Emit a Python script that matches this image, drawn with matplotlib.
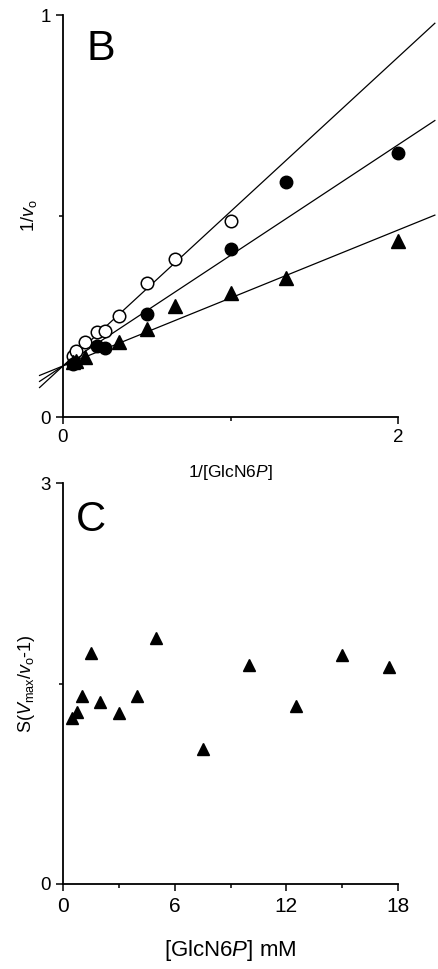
import matplotlib
matplotlib.use("Agg")
import matplotlib.pyplot as plt
import numpy as np
from matplotlib.ticker import FixedLocator, NullFormatter

plt.rcParams['font.family'] = ['Liberation Sans', 'DejaVu Sans']
plt.rcParams['mathtext.fontset'] = 'custom'
plt.rcParams['mathtext.rm'] = 'Liberation Sans'
plt.rcParams['mathtext.it'] = 'Liberation Sans:italic'

# Panel B: double-reciprocal plot, 1/[GlcN6P] vs 1/v0
open_x = [0.057, 0.08, 0.133, 0.2, 0.25, 0.333, 0.5, 0.667, 1.0]
open_y = [0.152, 0.165, 0.186, 0.212, 0.214, 0.252, 0.333, 0.393, 0.488]

filled_x = [0.057, 0.2, 0.25, 0.5, 1.0, 1.333, 2.0]
filled_y = [0.133, 0.177, 0.171, 0.255, 0.418, 0.585, 0.656]

tri_x = [0.057, 0.08, 0.133, 0.333, 0.5, 0.667, 1.0, 1.333, 2.0]
tri_y = [0.138, 0.140, 0.150, 0.186, 0.218, 0.276, 0.309, 0.347, 0.438]

# Fitted lines with a common intercept on the 1/v0 axis
fit_intercept = 0.127
fit_slopes = [0.384, 0.275, 0.169]
fit_x_range = [-0.14, 2.22]

# Panel C: S(Vmax/v0 - 1) vs [GlcN6P]
conc = [0.5, 0.75, 1.0, 1.5, 2.0, 3.0, 4.0, 5.0, 7.5, 10.0, 12.5, 15.0, 17.5]
s_val = [1.24, 1.29, 1.41, 1.73, 1.36, 1.28, 1.41, 1.84, 1.01, 1.64, 1.33, 1.71, 1.62]

W, H = 438, 969
fig = plt.figure(figsize=(W / 100, H / 100), dpi=100)

def px_axes(left, right, top, bottom):
    return fig.add_axes([left / W, 1 - bottom / H, (right - left) / W, (bottom - top) / H])

def style(ax):
    for s in ('top', 'right'):
        ax.spines[s].set_visible(False)
    for s in ('left', 'bottom'):
        ax.spines[s].set_linewidth(1.3)
    ax.tick_params(which='both', direction='out', width=1.1, labelsize=13.5, pad=4)
    ax.tick_params(which='major', length=5)
    ax.tick_params(which='minor', length=3)

# ---- Panel B ----
axB = px_axes(63, 398, 15, 417)
style(axB)
axB.set_xlim(0, 2)
axB.set_ylim(0, 1)
xl = np.array(fit_x_range)
for m in fit_slopes:
    axB.plot(xl, fit_intercept + m * xl, color='black', lw=0.9, clip_on=False, zorder=2)
axB.plot(open_x, open_y, 'o', ms=9, mfc='white', mec='black', mew=1.1,
         clip_on=False, zorder=3)
axB.plot(filled_x, filled_y, 'o', ms=9, color='black', clip_on=False, zorder=4)
axB.plot(tri_x, tri_y, '^', ms=9.5, color='black', clip_on=False, zorder=4)
axB.xaxis.set_major_locator(FixedLocator([0, 2]))
axB.xaxis.set_minor_locator(FixedLocator([1]))
axB.yaxis.set_major_locator(FixedLocator([0, 1]))
axB.yaxis.set_minor_locator(FixedLocator([0.5]))
axB.xaxis.set_minor_formatter(NullFormatter())
axB.yaxis.set_minor_formatter(NullFormatter())
axB.set_xticklabels(['0', '2'])
axB.set_yticklabels(['0', '1'])
axB.set_xlabel('1/[GlcN6$\\it{P}$]', fontsize=12.5, labelpad=12)
axB.set_ylabel('1/$\\it{v}_\\mathrm{o}$', fontsize=13, labelpad=1)
axB.text(0.227, 0.915, 'B', fontsize=31, ha='center', va='center')

# ---- Panel C ----
axC = px_axes(63, 398, 483, 884)
style(axC)
axC.set_xlim(0, 18)
axC.set_ylim(0, 3)
axC.plot(conc, s_val, '^', ms=8, color='black', clip_on=False, zorder=3)
axC.xaxis.set_major_locator(FixedLocator([0, 6, 12, 18]))
axC.xaxis.set_minor_locator(FixedLocator([3, 9, 15]))
axC.yaxis.set_major_locator(FixedLocator([0, 3]))
axC.yaxis.set_minor_locator(FixedLocator([1.5]))
axC.xaxis.set_minor_formatter(NullFormatter())
axC.yaxis.set_minor_formatter(NullFormatter())
axC.tick_params(axis='x', labelsize=15)
axC.set_xlabel('[GlcN6$\\it{P}$] mM', fontsize=16, labelpad=16)
axC.set_ylabel('S($\\it{V}_\\mathrm{max}$/$\\it{v}_\\mathrm{o}$-1)', fontsize=13, labelpad=2)
axC.text(1.5, 2.72, 'C', fontsize=30, ha='center', va='center')

fig.savefig('out.png', dpi=100)
